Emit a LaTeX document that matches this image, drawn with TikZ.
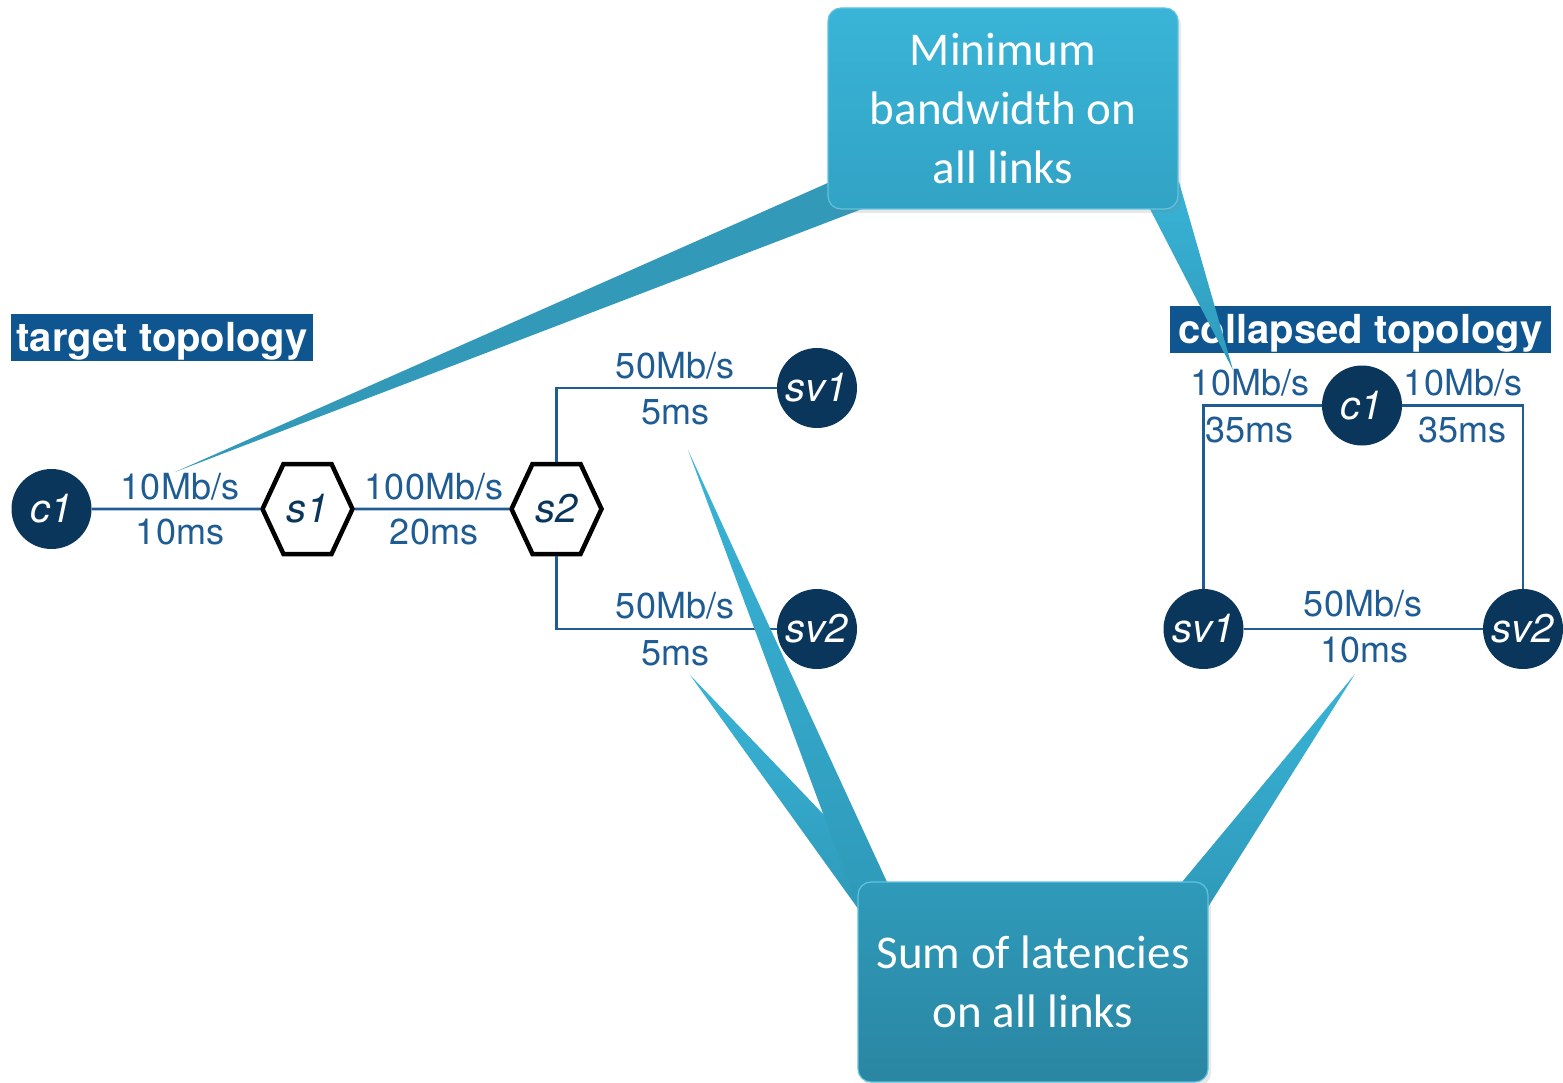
\documentclass[tikz,border=0pt]{standalone}
\usepackage{fontspec}
\setmainfont{TeX Gyre Heros}
\newfontfamily\calibri{Carlito}
\usetikzlibrary{shapes.symbols,shadows}

\definecolor{navy}{HTML}{0B365B}
\definecolor{linkblue}{HTML}{1F5C94}
\definecolor{titleblue}{HTML}{0F5690}
\definecolor{tealA}{HTML}{39B4D7}
\definecolor{tealB}{HTML}{32A3C5}
\definecolor{tealC}{HTML}{2F9ABA}
\definecolor{tealD}{HTML}{2A86A2}
\definecolor{tealE}{HTML}{3399B9}

\tikzset{
  host/.style={circle,fill=navy,minimum size=80,inner sep=0,text=white,
    font=\fontsize{40}{44}\selectfont\itshape},
  switch/.style={shape=signal,signal to=east and west,signal pointer angle=130,
    draw=black,line width=4.5,fill=white,minimum width=90,minimum height=90,
    inner sep=0,text=navy,font=\fontsize{40}{44}\selectfont\itshape},
  link/.style={draw=linkblue,line width=2.6},
  lbl/.style={anchor=base,text=linkblue,inner sep=0,font=\fontsize{36}{40}\selectfont},
  topotitle/.style={fill=titleblue,text=white,inner sep=0,minimum height=47,
    text height=37,text depth=10,font=\bfseries\fontsize{40}{44}\selectfont},
  notebox/.style={rounded corners=13,draw=tealA!80!white,line width=1.2,align=center,
    text=white,inner sep=0,font=\calibri\fontsize{47}{59}\selectfont,
    drop shadow={opacity=0.18,shadow xshift=3pt,shadow yshift=-4pt}},
  pointer/.style={top color=tealA,bottom color=tealC},
}

\begin{document}
\begin{tikzpicture}[x=1pt,y=-1pt]
  \useasboundingbox (0,0) rectangle (1563,1083);

  % target topology
  \node[topotitle,minimum width=302] (tgt) at (162,337.5) {target topology};
  \node[host] (c1) at (51.5,509) {c1};
  \node[switch] (s1) at (307.5,509) {s1};
  \node[switch] (s2) at (556.5,509) {s2};
  \node[host] (sv1) at (817,388) {sv1};
  \node[host] (sv2) at (817,629) {sv2};
  \draw[link] (c1) -- (s1);
  \draw[link] (s1) -- (s2);
  \draw[link] (s2.north) |- (sv1);
  \draw[link] (s2.south) |- (sv2);
  \node[lbl] (bw1) at (180,499) {10Mb/s};
  \node[lbl] (lat1) at (180,544) {10ms};
  \node[lbl] (bw2) at (434,499) {100Mb/s};
  \node[lbl] (lat2) at (434,544) {20ms};
  \node[lbl] (bw3) at (675,378) {50Mb/s};
  \node[lbl] (lat3) at (675,424) {5ms};
  \node[lbl] (bw4) at (675,618) {50Mb/s};
  \node[lbl] (lat4) at (675,665) {5ms};

  % collapsed topology
  \node[topotitle,minimum width=381] (col) at (1360.5,329.5) {collapsed topology};
  \node[host] (cc1) at (1362,405.5) {c1};
  \node[host] (csv1) at (1203.5,629) {sv1};
  \node[host] (csv2) at (1523,629) {sv2};
  \draw[link] (cc1) -| (csv1);
  \draw[link] (cc1) -| (csv2);
  \draw[link] (csv1) -- (csv2);
  \node[lbl] (cbw1) at (1250,395) {10Mb/s};
  \node[lbl] (clat1) at (1249,442) {35ms};
  \node[lbl] (cbw2) at (1463,395) {10Mb/s};
  \node[lbl] (clat2) at (1462,442) {35ms};
  \node[lbl] (cbw3) at (1363,616) {50Mb/s};
  \node[lbl] (clat3) at (1364,662) {10ms};

  % pointers of the two notes
  \fill[tealE] (175,472) -- (830,182) -- (862,209) -- cycle;
  \shade[pointer] (1233,370) -- (1150,209) -- (1179,182) -- cycle;
  \shade[pointer] (690,675) -- (870,863) -- (859,910) -- cycle;
  \shade[pointer] (688,450) -- (887,882) -- (857,905) -- cycle;
  \shade[pointer] (1355,674) -- (1182,882) -- (1208,907) -- cycle;

  % notes
  \node[notebox,top color=tealA,bottom color=tealB,minimum width=350,minimum height=201]
    (bw) at (1003,108.5) {Minimum\\bandwidth on\\all links};
  \node[notebox,top color=tealC,bottom color=tealD,minimum width=350,minimum height=200]
    (lat) at (1033,982) {Sum of latencies\\on all links};
\end{tikzpicture}
\end{document}
